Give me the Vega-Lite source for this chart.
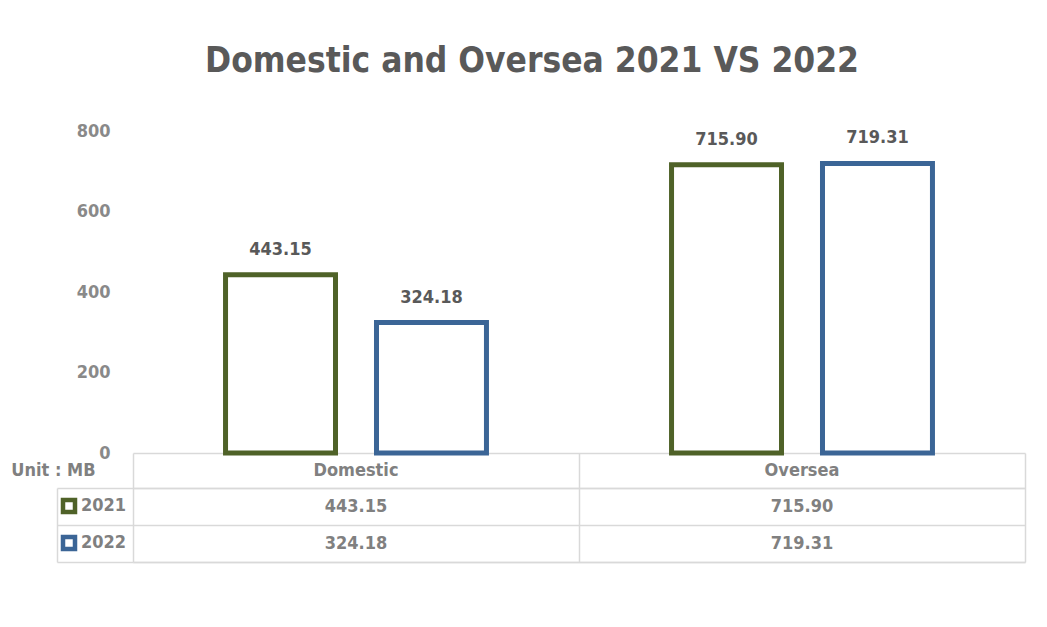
{
  "$schema": "https://vega.github.io/schema/vega-lite/v6.json",
  "width": 892,
  "height": 431,
  "autosize": {"type": "none"},
  "padding": {"left": 133, "top": 131, "right": 22, "bottom": 65},
  "background": "white",
  "config": {
    "font": "DejaVu Sans Condensed, sans-serif",
    "view": {"stroke": null}
  },
  "title": {
    "text": "Domestic and Oversea 2021 VS 2022",
    "fontSize": 35,
    "fontWeight": "bold",
    "color": "#595959",
    "anchor": "middle",
    "frame": "group",
    "dx": -47,
    "offset": 43
  },
  "data": {
    "values": [
      {"category": "Domestic", "series": "2021", "value": 443.15},
      {"category": "Domestic", "series": "2022", "value": 324.18},
      {"category": "Oversea", "series": "2021", "value": 715.90},
      {"category": "Oversea", "series": "2022", "value": 719.31}
    ]
  },
  "encoding": {
    "x": {
      "field": "category",
      "type": "nominal",
      "sort": ["Domestic", "Oversea"],
      "scale": {"paddingInner": 0, "paddingOuter": 0},
      "axis": {
        "orient": "bottom",
        "title": null,
        "labels": false,
        "domain": true,
        "domainColor": "#d9d9d9",
        "domainWidth": 1.5,
        "ticks": true,
        "tickBand": "extent",
        "tickSize": -109,
        "tickColor": "#d9d9d9",
        "tickWidth": 1.5,
        "grid": false
      }
    }
  },
  "layer": [
    {
      "layer": [
        {
          "mark": {"type": "bar", "fill": "white", "strokeWidth": 5},
          "encoding": {
            "xOffset": {"field": "series", "type": "nominal", "scale": {"paddingInner": 0.2715, "paddingOuter": 0.613}},
            "y": {
              "field": "value",
              "type": "quantitative",
              "scale": {"domain": [0, 800], "range": [322, 0]},
              "axis": {
                "title": null,
                "values": [0, 200, 400, 600, 800],
                "ticks": false,
                "domain": false,
                "grid": false,
                "labelPadding": 23,
                "labelFontSize": 18,
                "labelFontWeight": "bold",
                "labelColor": "#898989"
              }
            },
            "stroke": {
              "field": "series",
              "type": "nominal",
              "scale": {"domain": ["2021", "2022"], "range": ["#4f6228", "#3b6596"]},
              "legend": {
                "title": null,
                "orient": "none",
                "legendX": -73,
                "legendY": 366,
                "symbolType": "square",
                "symbolSize": 144,
                "symbolStrokeWidth": 4.5,
                "symbolFillColor": "white",
                "labelFontSize": 18,
                "labelFontWeight": "bold",
                "labelColor": "#808080",
                "labelOffset": 3,
                "rowPadding": 7,
                "padding": 0
              }
            }
          }
        },
        {
          "mark": {"type": "text", "baseline": "middle", "dy": -25, "fontSize": 18, "fontWeight": "bold", "color": "#595959"},
          "encoding": {
            "xOffset": {"field": "series", "type": "nominal"},
            "y": {"field": "value", "type": "quantitative"},
            "text": {"field": "value", "type": "quantitative", "format": ".2f"}
          }
        }
      ]
    },
    {
      "transform": [{"filter": "datum.series == '2021'"}],
      "mark": {"type": "text", "fontSize": 18, "fontWeight": "bold", "color": "#808080"},
      "encoding": {
        "y": {
          "datum": "Unit : MB",
          "type": "nominal",
          "scale": {"domain": ["Unit : MB"], "range": [322, 357], "paddingInner": 0, "paddingOuter": 0},
          "axis": {
            "orient": "left",
            "title": null,
            "ticks": false,
            "domain": false,
            "grid": true,
            "tickBand": "extent",
            "gridColor": "#d9d9d9",
            "gridWidth": 1.5,
            "labelPadding": 38,
            "labelFontSize": 18,
            "labelFontWeight": "bold",
            "labelColor": "#808080"
          }
        },
        "text": {"field": "category", "type": "nominal"}
      }
    },
    {
      "mark": {"type": "text", "fontSize": 18, "fontWeight": "bold", "color": "#808080"},
      "encoding": {
        "y": {
          "field": "series",
          "type": "nominal",
          "scale": {"domain": ["2021", "2022"], "range": [357, 431], "paddingInner": 0, "paddingOuter": 0},
          "axis": {
            "orient": "left",
            "title": null,
            "offset": 76,
            "tickSize": -76,
            "tickBand": "extent",
            "ticks": true,
            "tickColor": "#d9d9d9",
            "tickWidth": 1.5,
            "domain": true,
            "domainColor": "#d9d9d9",
            "domainWidth": 1.5,
            "labels": false,
            "grid": true,
            "gridColor": "#d9d9d9",
            "gridWidth": 1.5
          }
        },
        "text": {"field": "value", "type": "quantitative", "format": ".2f"}
      }
    }
  ],
  "resolve": {"scale": {"y": "independent"}, "axis": {"y": "independent"}}
}
